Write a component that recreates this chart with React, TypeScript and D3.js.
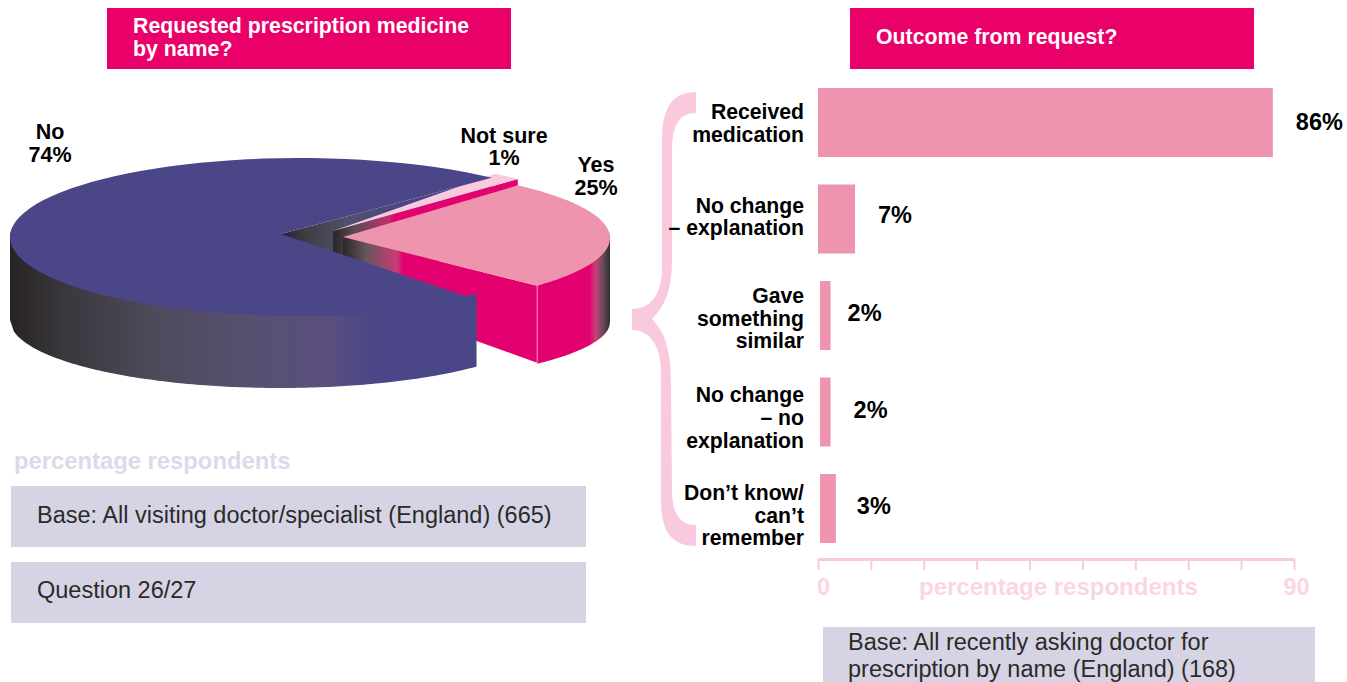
import React, { useEffect, useRef } from "react";
import * as d3 from "d3";

// pie data, clockwise from the Yes slice
const pieNames = ["Yes", "No", "Not sure"];
const pieValues = [25, 74, 1];

// bar data
const barNames = [
  ["Received", "medication"],
  ["No change", "– explanation"],
  ["Gave", "something", "similar"],
  ["No change", "– no", "explanation"],
  ["Don’t know/", "can’t", "remember"],
];
const barKeys = barNames.map((d) => d.join(" "));
const barValues = [86, 7, 2, 2, 3];
const barLabels = ["86%", "7%", "2%", "2%", "3%"];
const barShift = [0, 0, 2, 2, 2];
const labelGap = [23, 23, 17, 23, 21];
const nameNudge = [1, -2, 3, 6, 7];
const valueNudge = [0, -4, -3, -2, -3];
const axisTicks = [0, 10, 20, 30, 40, 50, 60, 70, 80, 90];

const FONT = "'Liberation Sans', Arial, sans-serif";
const PINK = "#ea0069";
const MAGENTA = "#e3006f";
const ROSE = "#ee94ae";
const PALE = "#f9cade";
const NAVY = "#4a4687";
const PANEL = "#d6d4e4";

const rad = (d: number) => (d * Math.PI) / 180;

const pieSlices = d3
  .pie<number>()
  .sort(null)
  .startAngle(rad(43))
  .endAngle(rad(403))(pieValues);

type Ell = { cx: number; cy: number; rx: number; ry: number };

const onEll = (e: Ell, a: number): [number, number] => [
  e.cx + e.rx * Math.sin(a),
  e.cy - e.ry * Math.cos(a),
];

// a wedge on the tilted disc, drawn as a closed line through sampled angles
const wedge = (apex: [number, number], e: Ell, a0: number, a1: number) => {
  const n = 80;
  const pts = d3.range(n + 1).map((i) => onEll(e, a0 + ((a1 - a0) * i) / n));
  return d3.line()([apex, ...pts]) + "Z";
};

// outer wall between top disc and bottom rim
const wall = (top: Ell, bottom: Ell, x0: number, x1: number) => {
  const xs = d3.range(0, 121).map((i) => x0 + ((x1 - x0) * i) / 120);
  const under = (e: Ell, x: number) =>
    e.cy + e.ry * Math.sqrt(Math.max(0, 1 - ((x - e.cx) / e.rx) ** 2));
  return d3
    .area<number>()
    .x((x) => x)
    .y0((x) => under(top, x) - 6)
    .y1((x) => under(bottom, x))(xs) as string;
};

const face = (p0: [number, number], p1: [number, number], d0: number, d1: number) =>
  d3.line()([p0, p1, [p1[0], p1[1] + d1], [p0[0], p0[1] + d0]]) + "Z";

const Grad = ({ id, x1, x2, stops }: { id: string; x1: number; x2: number; stops: [number, string][] }) => (
  <linearGradient id={id} gradientUnits="userSpaceOnUse" x1={x1} x2={x2} y1={0} y2={0}>
    {stops.map(([o, c], i) => (
      <stop key={i} offset={o} stopColor={c} />
    ))}
  </linearGradient>
);

const Lines = ({ x, y, lh, lines, ...rest }: any) => (
  <text fontFamily={FONT} {...rest}>
    {lines.map((l: string, i: number) => (
      <tspan key={i} x={x} y={y + i * lh}>
        {l}
      </tspan>
    ))}
  </text>
);

const Pie3D = () => {
  const [yes, no, notSure] = pieSlices;

  const noTop: Ell = { cx: 300, cy: 237, rx: 290, ry: 79 };
  const noBottom: Ell = { cx: 280, cy: 320, rx: 270, ry: 68 };
  const yesTop: Ell = { cx: 320, cy: 238, rx: 290, ry: 72 };
  const yesBottom: Ell = { cx: 320, cy: 322, rx: 290, ry: 63 };
  const sureTop: Ell = { cx: 320, cy: 236, rx: 290, ry: 78 };

  const noApex: [number, number] = [281, 234];
  const yesApex: [number, number] = [343, 237];
  const sureApex: [number, number] = [333, 231];

  // the drawing is not a true projection: No is trimmed where it meets the gap
  const noA0 = no.startAngle + rad(9.5);
  const noA1 = no.endAngle + rad(2);
  const sureA0 = notSure.startAngle - rad(2.2);
  const yesA1 = yes.endAngle - rad(1.5);
  const noEnd = onEll(noTop, noA1);
  const noStart = onEll(noTop, noA0);
  const yesB = onEll(yesTop, yesA1);
  const sureB = onEll(sureTop, notSure.endAngle);

  return (
    <g>
      <defs>
        <Grad
          id="noInner"
          x1={noApex[0]}
          x2={noEnd[0]}
          stops={[
            [0, "#26222a"],
            [0.12, "#3f3d45"],
            [0.3, "#50506a"],
            [0.6, NAVY],
            [1, NAVY],
          ]}
        />
        <Grad
          id="noWall"
          x1={10}
          x2={noStart[0]}
          stops={[
            [0, "#272325"],
            [0.1, "#38353a"],
            [0.3, "#4d4a5a"],
            [0.5, "#56506f"],
            [0.68, "#5a4f7e"],
            [0.78, NAVY],
            [1, NAVY],
          ]}
        />
        <Grad
          id="sureFace"
          x1={sureApex[0]}
          x2={395}
          stops={[
            [0, "#2a2627"],
            [0.35, "#5a4c55"],
            [0.9, "#c2306f"],
            [1, MAGENTA],
          ]}
        />
        <Grad
          id="yesInner"
          x1={yesApex[0]}
          x2={403}
          stops={[
            [0, "#2b2727"],
            [0.4, "#6a5560"],
            [0.9, "#c93c74"],
            [1, MAGENTA],
          ]}
        />
        <Grad
          id="yesWall"
          x1={yesB[0]}
          x2={yesTop.cx + yesTop.rx}
          stops={[
            [0, MAGENTA],
            [0.72, MAGENTA],
            [0.8, "#c94078"],
            [0.9, "#6b4c5c"],
            [1, "#322e30"],
          ]}
        />
      </defs>

      <path d={face(noApex, noEnd, 60, 60)} fill="url(#noInner)" />

      <path d={face(sureApex, sureB, 60, 60)} fill="url(#sureFace)" />
      <path d={wedge(sureApex, sureTop, sureA0, notSure.endAngle)} fill={PALE} />

      <path d={face(yesApex, yesB, 56, 77)} fill="url(#yesInner)" />
      <path d={wall(yesTop, yesBottom, yesB[0], yesTop.cx + yesTop.rx)} fill="url(#yesWall)" />
      <path d={wedge(yesApex, yesTop, yes.startAngle, yesA1)} fill={ROSE} />
      <line x1={yesB[0]} x2={yesB[0]} y1={yesB[1]} y2={yesB[1] + 77} stroke="#f6a9c6" strokeWidth={0.8} />

      <path d={wall(noTop, noBottom, noTop.cx - noTop.rx, noStart[0])} fill="url(#noWall)" />
      <path d={wedge(noApex, noTop, noA0, noA1)} fill={NAVY} />
    </g>
  );
};

const Bars = () => {
  const axisRef = useRef<SVGGElement>(null);

  const x = d3.scaleLinear().domain([0, 90]).range([818, 1294]);
  const y = d3.scaleBand().domain(barKeys).range([88, 543]).paddingInner(0.285);

  useEffect(() => {
    const g = d3.select(axisRef.current as SVGGElement);
    const axis = d3
      .axisBottom(x)
      .tickValues(axisTicks)
      .tickSizeInner(11)
      .tickSizeOuter(0)
      .tickPadding(8)
      .tickFormat((d) => (d === 0 || d === 90 ? String(d) : ""));
    g.call(axis);
    g.select(".domain").attr("stroke", PALE).attr("stroke-width", 3);
    g.selectAll(".tick line").attr("stroke", PALE).attr("stroke-width", 2);
    g.selectAll(".tick text")
      .attr("fill", "#fcd5e4")
      .attr("font-family", FONT)
      .attr("font-weight", "bold")
      .attr("font-size", 23.5)
      .attr("dx", (d: any) => (d === 0 ? 5 : 2));
  }, []);

  return (
    <g>
      {barKeys.map((k, i) => {
        const bx = x(0) + barShift[i];
        const w = x(barValues[i]) - x(0);
        const by = y(k) as number;
        const h = y.bandwidth();
        return (
          <g key={k}>
            <rect x={bx} y={by} width={w} height={h} fill={ROSE} />
            <Lines
              x={804}
              y={by + h / 2 + 7 + nameNudge[i] - ((barNames[i].length - 1) * 22.6) / 2}
              lh={22.6}
              lines={barNames[i]}
              textAnchor="end"
              fontWeight="bold"
              fontSize={21.2}
              fill="#000"
            />
            <text
              x={bx + w + labelGap[i]}
              y={by + h / 2 + 8 + valueNudge[i]}
              fontFamily={FONT}
              fontWeight="bold"
              fontSize={23.5}
              fill="#000"
            >
              {barLabels[i]}
            </text>
          </g>
        );
      })}
      <g ref={axisRef} transform="translate(0,559)" />
    </g>
  );
};

export default function App() {
  return (
    <svg
      width={1347}
      height={682}
      viewBox="0 0 1347 682"
      style={{ position: "absolute", left: 0, top: 0, display: "block" }}
    >
      <rect x={107} y={8} width={404} height={61} fill={PINK} />
      <Lines
        x={133}
        y={33}
        lh={23}
        lines={["Requested prescription medicine", "by name?"]}
        fontWeight="bold"
        fontSize={21.3}
        fill="#fff"
      />
      <rect x={850} y={8} width={404} height={61} fill={PINK} />
      <Lines x={876} y={44} lh={23} lines={["Outcome from request?"]} fontWeight="bold" fontSize={21.3} fill="#fff" />

      <Pie3D />

      <Lines x={50} y={139} lh={23} lines={[pieNames[1], pieValues[1] + "%"]} textAnchor="middle" fontWeight="bold" fontSize={21.5} />
      <Lines x={504} y={143} lh={22} lines={[pieNames[2], pieValues[2] + "%"]} textAnchor="middle" fontWeight="bold" fontSize={21.5} />
      <Lines x={596} y={172} lh={23} lines={[pieNames[0], pieValues[0] + "%"]} textAnchor="middle" fontWeight="bold" fontSize={21.5} />

      <path
        d="M696 92 C672 92 662 108 662 140 L662 268 C662 295 650 309 632 309 L632 330 C650 330 661 346 661 372 L661 500 C661 532 672 546 696 546 L696 525 C680 525 672 514 672 490 L671 385 C671 350 665 332 652 319 C665 306 672 290 672 260 L672 150 C672 124 680 113 696 113 Z"
        fill={PALE}
      />

      <Bars />

      <text x={919} y={595} fontFamily={FONT} fontWeight="bold" fontSize={24} fill="#fcd5e4">
        percentage respondents
      </text>
      <text x={14} y={469} fontFamily={FONT} fontWeight="bold" fontSize={23.8} fill="#dcdaea">
        percentage respondents
      </text>

      <rect x={11} y={486} width={575} height={61} fill={PANEL} />
      <rect x={11} y={562} width={575} height={61} fill={PANEL} />
      <rect x={823} y={627} width={492} height={55} fill={PANEL} />
      <Lines x={37} y={523} lh={23} lines={["Base: All visiting doctor/specialist (England) (665)"]} fontSize={23.5} fill="#2a2a2a" />
      <Lines x={37} y={598} lh={23} lines={["Question 26/27"]} fontSize={23.5} fill="#2a2a2a" />
      <Lines
        x={848}
        y={650}
        lh={27}
        lines={["Base: All recently asking doctor for", "prescription by name (England) (168)"]}
        fontSize={23.5}
        fill="#2a2a2a"
      />
    </svg>
  );
}
